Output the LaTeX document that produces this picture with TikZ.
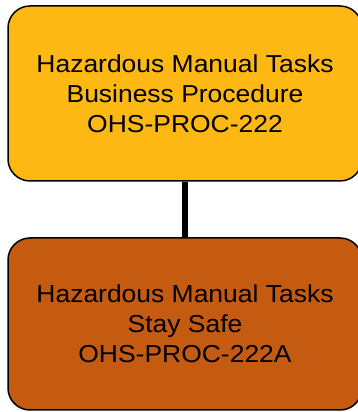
\documentclass[tikz,border=0pt]{standalone}
\usepackage{fontspec}
\setmainfont{Liberation Sans}[FakeStretch=1.08]
\usepackage{tikz}
\usepackage{xcolor}
\definecolor{procgold}{RGB}{253,184,19}
\definecolor{procrust}{RGB}{197,90,17}

\begin{document}
\begin{tikzpicture}[x=1pt, y=1pt,
  procbox/.style={rectangle, draw=black, line width=1.5pt, rounded corners=22pt,
    minimum width=354pt, inner sep=0pt, align=center,
    font=\fontsize{24.5}{30.2}\selectfont}]
  \useasboundingbox (0,0) rectangle (358,412);
  % Show procedure hierarchy
  \node[procbox, fill=procgold, minimum height=175pt] (proc) at (185, 318.5) {Hazardous Manual Tasks\\Business Procedure\\OHS-PROC-222};
  \node[procbox, fill=procrust, minimum height=172pt] (safe) at (185, 88) {Hazardous Manual Tasks\\Stay Safe\\OHS-PROC-222A};

  \draw[line width=5.5pt, black] (proc) -- (safe);
\end{tikzpicture}
\end{document}
